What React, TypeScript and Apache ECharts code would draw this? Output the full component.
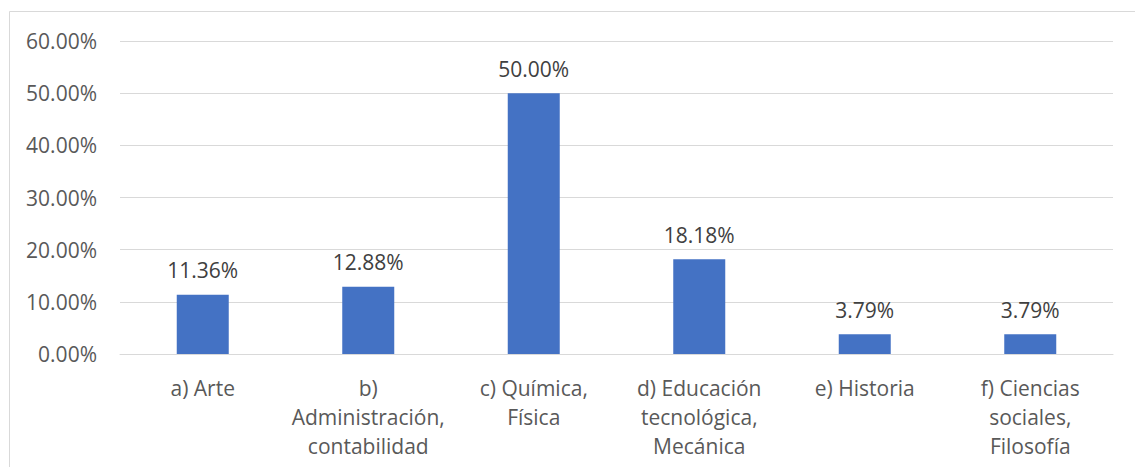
import React, { useEffect, useRef } from "react";
import * as echarts from "echarts";

const categories = [
  "a) Arte",
  "b)\nAdministración,\ncontabilidad",
  "c) Química,\nFísica",
  "d) Educación\ntecnológica,\nMecánica",
  "e) Historia",
  "f) Ciencias\nsociales,\nFilosofía",
];
const values = [0.1136, 0.1288, 0.5, 0.1818, 0.0379, 0.0379];

const FONT = "'Open Sans', 'Noto Sans', sans-serif";
const pct = (v: number) => (v * 100).toFixed(2) + "%";

export default function App() {
  const ref = useRef<HTMLDivElement>(null);
  useEffect(() => {
    const chart = echarts.init(ref.current!, undefined, { renderer: "svg" });
    chart.setOption({
      animation: false,
      backgroundColor: "#ffffff",
      textStyle: { fontFamily: FONT },
      graphic: [
        {
          type: "rect",
          shape: { x: 9.5, y: 11.5, width: 1200, height: 600 },
          style: { fill: "none", stroke: "#d9d9d9", lineWidth: 1 },
          silent: true,
        },
      ],
      grid: { left: 120, right: 22, top: 41, bottom: 113 },
      xAxis: {
        type: "category",
        data: categories,
        axisLine: { show: true, lineStyle: { color: "#d9d9d9", width: 1 } },
        axisTick: { show: false },
        axisLabel: {
          color: "#595959",
          fontSize: 21,
          fontFamily: FONT,
          lineHeight: 29,
          margin: 19,
          interval: 0,
          align: "center",
        },
      },
      yAxis: {
        type: "value",
        min: 0,
        max: 0.6,
        interval: 0.1,
        axisLine: { show: false },
        axisTick: { show: false },
        splitLine: { lineStyle: { color: "#d9d9d9", width: 1 } },
        axisLabel: {
          color: "#595959",
          fontSize: 21,
          fontFamily: FONT,
          margin: 23,
          formatter: (v: number) => pct(v),
        },
      },
      series: [
        {
          type: "bar",
          data: values,
          barWidth: 52,
          itemStyle: { color: "#4472c4" },
          label: {
            show: true,
            position: "top",
            distance: 14,
            color: "#404040",
            fontSize: 21,
            fontFamily: FONT,
            formatter: (p: any) => pct(p.value),
          },
        },
      ],
    });
    return () => chart.dispose();
  }, []);
  return (
    <div
      ref={ref}
      style={{ position: "fixed", left: 0, top: 0, width: 1135, height: 467 }}
    />
  );
}
